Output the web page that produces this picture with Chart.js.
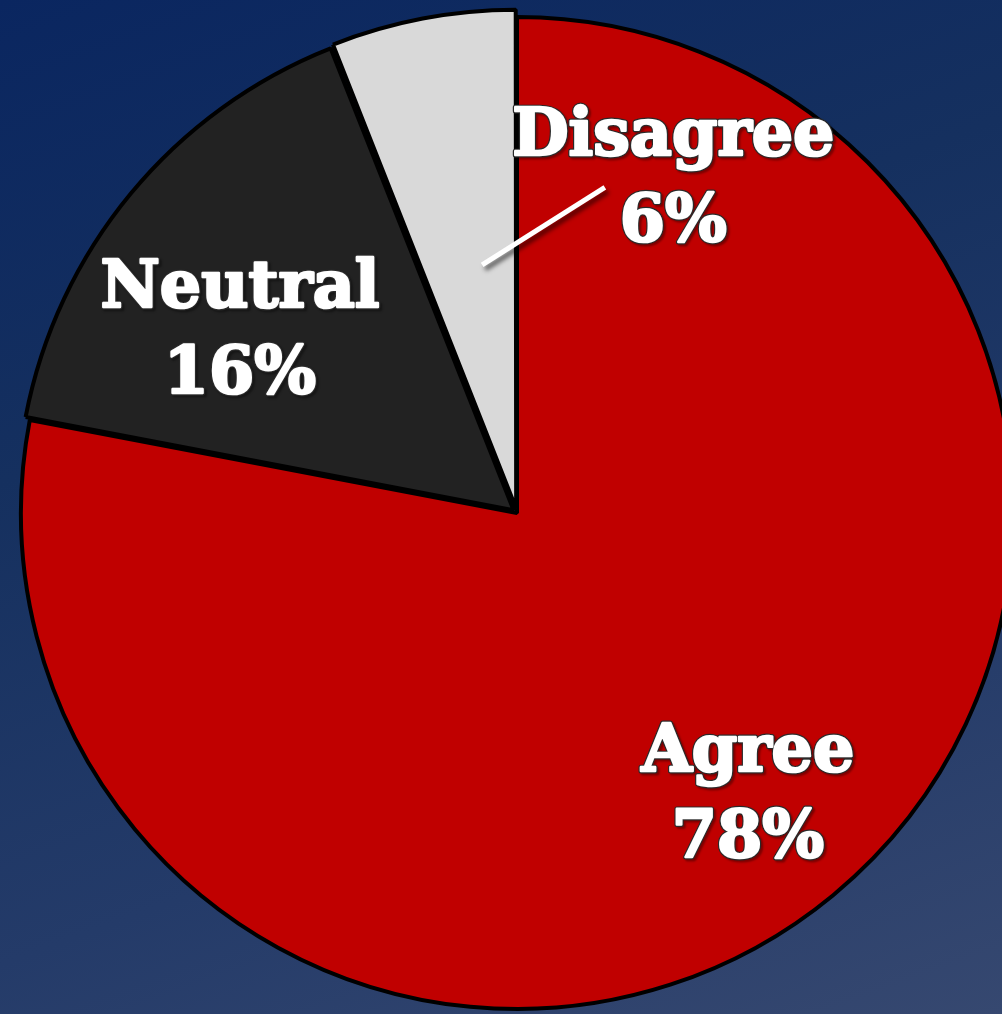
<!DOCTYPE html>
<html>
<head>
<meta charset="utf-8">
<script src="https://cdn.jsdelivr.net/npm/chart.js@4/dist/chart.umd.min.js"></script>
<style>
    html, body { margin: 0; padding: 0; width: 1002px; height: 1014px; overflow: hidden; }
    body { background: linear-gradient(160deg, #0a2660 0%, #15305f 35%, #243b69 70%, #364870 100%); }
    #wrap { position: absolute; left: 0; top: 0; width: 1002px; height: 1014px; }
</style>
</head>
<body>
<div id="wrap"><canvas id="pie" width="1002" height="1014"></canvas></div>
<script>
// Datos del gráfico
const categories = ['Agree', 'Neutral', 'Disagree'];
const values = [78, 16, 6];
const percentLabels = ['78%', '16%', '6%'];
const sliceColors = ['#c00000', '#222222', '#d9d9d9'];

// Colocación de etiquetas: giro (grados) respecto al ángulo medio y radio relativo
const labelPlacement = [
    { turn: 0.5, r: 0.738 },
    { turn: -6.6, r: 0.666 },
    { turn: 36.0, r: 0.740 }
];
// Línea guía solo para "Disagree"
const leader = { index: 2, from: { turn: 2.8, r: 0.505 }, to: { turn: 25.9, r: 0.68 } };

const DEG = Math.PI / 180;

function pointAt(arc, place) {
    const mid = (arc.startAngle + arc.endAngle) / 2 + place.turn * DEG;
    const rr = arc.outerRadius * place.r;
    return { x: arc.x + Math.cos(mid) * rr, y: arc.y + Math.sin(mid) * rr };
}

const labelPlugin = {
    id: 'sliceLabels',
    afterDatasetsDraw(chart) {
        const ctx = chart.ctx;
        const arcs = chart.getDatasetMeta(0).data;

        // línea guía
        const la = arcs[leader.index].getProps(['x', 'y', 'startAngle', 'endAngle', 'outerRadius'], true);
        const p1 = pointAt(la, leader.from);
        const p2 = pointAt(la, leader.to);
        ctx.save();
        ctx.lineCap = 'butt';
        ctx.shadowColor = 'rgba(0,0,0,0.55)';
        ctx.shadowOffsetX = 3;
        ctx.shadowOffsetY = 4;
        ctx.shadowBlur = 4;
        ctx.strokeStyle = '#ffffff';
        ctx.lineWidth = 5;
        ctx.beginPath();
        ctx.moveTo(p1.x, p1.y);
        ctx.lineTo(p2.x, p2.y);
        ctx.stroke();
        ctx.restore();

        // textos
        ctx.save();
        ctx.font = 'bold 65px "DejaVu Serif"';
        ctx.textAlign = 'center';
        ctx.textBaseline = 'middle';
        ctx.lineJoin = 'round';
        arcs.forEach((el, i) => {
            const arc = el.getProps(['x', 'y', 'startAngle', 'endAngle', 'outerRadius'], true);
            const c = pointAt(arc, labelPlacement[i]);
            const lines = [categories[i], percentLabels[i]];
            lines.forEach((txt, j) => {
                const y = c.y + (j === 0 ? -43 : 43);
                ctx.shadowColor = 'rgba(0,0,0,0.35)';
                ctx.shadowOffsetX = 2;
                ctx.shadowOffsetY = 2;
                ctx.shadowBlur = 2;
                ctx.strokeStyle = '#2a2a2a';
                ctx.lineWidth = 5;
                ctx.strokeText(txt, c.x, y);
                ctx.shadowColor = 'transparent';
                ctx.strokeStyle = '#ffffff';
                ctx.lineWidth = 2.6;
                ctx.strokeText(txt, c.x, y);
                ctx.fillStyle = '#ffffff';
                ctx.fillText(txt, c.x, y);
            });
        });
        ctx.restore();
    }
};

new Chart(document.getElementById('pie').getContext('2d'), {
    type: 'pie',
    data: {
        labels: categories,
        datasets: [{
            data: values,
            backgroundColor: sliceColors,
            borderColor: '#000000',
            borderWidth: 4,
            offset: [0, 18, 18],
            clip: false
        }]
    },
    options: {
        responsive: false,
        devicePixelRatio: 1,
        animation: false,
        radius: 496,
        layout: { padding: { left: 32, top: 12, right: 0, bottom: 0 } },
        plugins: {
            legend: { display: false },
            tooltip: { enabled: false }
        }
    },
    plugins: [labelPlugin]
});
</script>
</body>
</html>
